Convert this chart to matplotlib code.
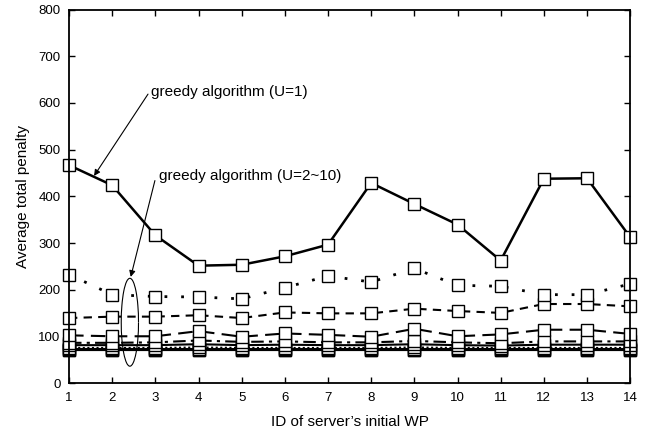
import matplotlib
matplotlib.use('Agg')
import matplotlib.pyplot as plt
from matplotlib.patches import Arc

plt.rcParams['font.family'] = ['Liberation Sans', 'DejaVu Sans']

# Data
server_ids = list(range(1, 15))
u1 = [467, 424, 317, 252, 254, 272, 297, 429, 384, 340, 263, 438, 439, 313]
u2 = [233, 190, 186, 185, 181, 205, 230, 217, 246, 210, 208, 190, 190, 213]
u3 = [140, 143, 143, 146, 140, 152, 150, 150, 160, 155, 151, 170, 170, 165]
u4 = [103, 101, 101, 112, 100, 107, 104, 100, 117, 101, 105, 115, 115, 106]
u5 = [87, 87, 88, 92, 89, 90, 88, 88, 91, 88, 86, 90, 90, 90]
u6 = [82, 82, 82, 84, 82, 83, 82, 82, 84, 82, 81, 83, 83, 83]
u7 = [76, 76, 76, 77, 76, 76, 76, 76, 77, 76, 76, 76, 76, 76]
u8 = [73, 73, 73, 73, 73, 73, 73, 73, 73, 73, 73, 73, 73, 73]
u9 = [72, 72, 72, 72, 72, 72, 72, 72, 72, 72, 72, 72, 72, 72]
u10 = [71, 71, 71, 71, 71, 71, 71, 71, 71, 71, 71, 71, 71, 71]

series = [
    (u10, '-', 1.5),
    (u9, '-', 1.5),
    (u8, '-', 1.5),
    (u7, (0, (1, 1.2)), 1.5),
    (u6, '-', 1.5),
    (u5, (0, (6, 2.5, 1.5, 2.5)), 1.5),
    (u4, (0, (7, 3.5)), 1.5),
    (u3, (0, (4, 3)), 1.5),
    (u2, (0, (1, 5)), 2.0),
    (u1, '-', 1.8),
]

fig = plt.figure(figsize=(6.51, 4.34), dpi=100)
ax = fig.add_axes([0.106, 0.1164, 0.862, 0.8617])

for vals, ls, lw in series:
    ax.plot(server_ids, vals, linestyle=ls, color='black', linewidth=lw,
            marker='s', markersize=9, markerfacecolor='white',
            markeredgecolor='black', markeredgewidth=1.0, clip_on=False)

ax.set_xlim(1, 14)
ax.set_ylim(0, 800)
ax.set_xticks(server_ids)
ax.set_yticks(range(0, 801, 100))
ax.tick_params(direction='in', top=True, right=True, length=4, width=1,
               labelsize=9.5, pad=6)
for s in ax.spines.values():
    s.set_linewidth(1.3)

ax.set_xlabel("ID of server\u2019s initial WP", fontsize=11, labelpad=8)
ax.set_ylabel('Average total penalty', fontsize=11, labelpad=6)

arrow = dict(arrowstyle='-|>', color='black', lw=0.8, mutation_scale=9,
             shrinkA=0, shrinkB=0)
ax.text(2.9, 623, 'greedy algorithm (U=1)', fontsize=11, ha='left', va='center')
ax.annotate('', xy=(1.58, 444), xytext=(2.83, 619), arrowprops=arrow)
ax.text(3.09, 444, 'greedy algorithm (U=2~10)', fontsize=11, ha='left', va='center')
ax.annotate('', xy=(2.43, 228), xytext=(2.99, 434), arrowprops=arrow)
ax.add_patch(Arc((2.41, 131), 0.40, 188, theta1=55, theta2=305,
                 color='black', lw=0.8))

fig.savefig('out.png', dpi=100)
